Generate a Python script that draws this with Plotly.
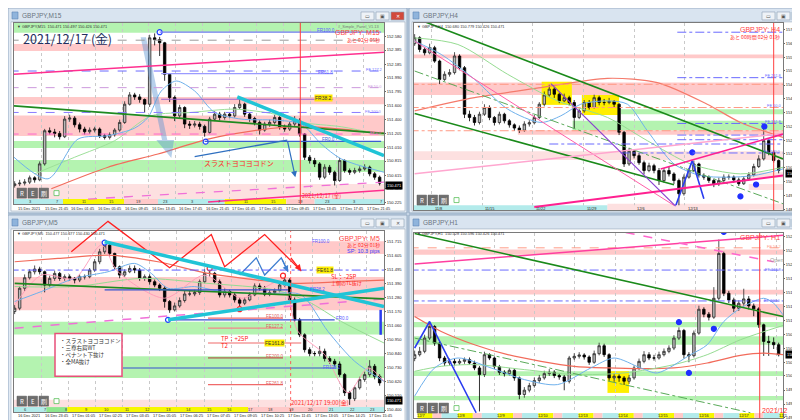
import plotly.graph_objects as go

W, H = 800, 420
FONT = 'Liberation Sans, DejaVu Sans, sans-serif'
JFONT = 'Noto Sans CJK JP, sans-serif'

# ======================= DATA =======================
# ---- GBPJPY M15 (top-left) ----
m15_open0 = 150.470
m15_close = [150.493,150.503,150.517,150.578,150.550,150.775,151.244,151.225,151.206,151.159,
             151.408,151.422,151.328,151.267,151.230,151.253,151.267,151.173,151.150,151.187,
             151.253,151.361,151.619,151.750,151.722,151.685,151.619,152.557,152.533,152.487,
             152.041,151.713,151.455,151.572,151.338,151.323,151.338,151.305,151.220,151.408,
             151.478,151.431,151.478,151.455,151.572,151.619,151.478,151.417,151.361,151.253,
             151.338,151.361,151.431,151.300,151.267,151.338,151.384,151.197,150.869,150.822,
             150.775,150.587,150.728,150.657,150.540,150.822,150.681,150.657,150.681,150.704,
             150.728,150.634,150.587,150.503]
m15_high = [150.53,150.55,150.56,150.61,150.60,150.81,151.27,151.29,151.27,151.24,
            151.45,151.47,151.45,151.36,151.30,151.29,151.30,151.29,151.20,151.22,
            151.28,151.40,151.66,151.79,151.78,151.76,151.70,152.60,152.62,152.57,
            152.50,152.06,151.74,151.61,151.59,151.38,151.38,151.37,151.33,151.44,
            151.52,151.51,151.51,151.50,151.62,151.70,151.64,151.50,151.44,151.39,
            151.37,151.40,151.47,151.45,151.33,151.37,151.45,151.42,151.21,150.90,
            150.86,150.80,150.77,150.76,150.68,150.86,150.84,150.71,150.72,150.74,
            150.77,150.75,150.66,150.61]
m15_low = [150.44,150.46,150.47,150.49,150.51,150.53,150.75,151.19,151.15,151.12,
           151.14,151.37,151.29,151.22,151.19,151.20,151.22,151.14,151.12,151.12,
           151.16,151.23,151.34,151.60,151.68,151.64,151.50,151.58,152.45,152.30,
           151.95,151.65,151.38,151.42,151.28,151.27,151.29,151.26,151.16,151.20,
           151.38,151.39,151.40,151.42,151.43,151.55,151.44,151.37,151.32,151.19,
           151.23,151.30,151.33,151.26,151.23,151.24,151.31,151.16,150.83,150.78,
           150.73,150.55,150.56,150.62,150.47,150.52,150.65,150.62,150.63,150.65,
           150.68,150.60,150.55,150.47]
m15_price_ticks = [152.580,152.385,152.185,151.990,151.795,151.600,151.400,151.205,151.010,150.815,150.615,150.420,150.225]
m15_time_labels = ['15 Dec 2021','15 Dec 21:45','16 Dec 01:45','16 Dec 05:45','16 Dec 09:45','16 Dec 13:45','16 Dec 17:45',
                   '16 Dec 21:45','17 Dec 01:45','17 Dec 05:45','17 Dec 09:45','17 Dec 13:45','17 Dec 17:45','17 Dec 21:45']
m15_time_pos = [0.0,5.37,10.74,16.11,21.48,26.85,32.22,37.59,42.96,48.33,53.7,59.07,64.44,69.81]
m15_session_hours = ['3','7','11','15','19','23','3','7','11','15','19','23','3','7']
m15_session_pos = [3.0,8.41,13.82,19.23,24.64,30.05,35.46,40.87,46.28,51.69,57.1,62.51,67.92,73.33]
m15_session_spans = [(-0.13,9.67,'c'),(9.67,21.87,'y'),(21.87,28.67,'p'),(28.67,42.0,'c'),(42.0,54.33,'y'),(54.33,60.0,'p'),(60.0,73.87,'c')]
m15_bands = [(152.63,152.77,'g'),(152.37,152.47,'p'),(151.62,151.72,'p'),(151.17,151.46,'p'),
             (151.00,151.10,'g'),(150.66,150.83,'g'),(150.28,150.49,'lp')]
m15_ma_slow_x = [7.33,18.67,28.67,38.67,48.67,57.33,65.33,73.87]
m15_ma_slow_y = [150.423,150.728,150.915,151.126,151.253,151.305,151.267,151.206]
m15_ma_fast_x = [-0.13,6.67,12.67,18.67,24.0,26.67,29.33,32.33,36.0,40.0,45.33,52.0,57.33,61.33,65.33,73.87]
m15_ma_fast_y = [150.869,150.564,151.126,151.173,151.281,151.431,151.806,151.947,151.806,151.502,151.408,151.394,151.338,151.056,150.845,150.657]
m15_ma_mid_x = [4.0,12.0,20.0,27.33,35.33,44.0,52.0,57.33,65.33,73.87]
m15_ma_mid_y = [150.634,150.869,151.103,151.455,151.502,151.549,151.478,151.361,151.300,151.180]
m15_tl_green = [(-0.13,151.595),(73.87,151.206)]
m15_tl_magenta = [(-0.13,152.041),(73.87,152.355)]
m15_tl_magenta_low = [(38.67,150.235),(73.87,150.404)]
m15_tl_pink_dash = [(14.67,150.278),(73.87,150.517)]
m15_tl_cyan = [(44.53,151.722),(73.87,150.892)]
m15_tl_blue = [(36.0,150.878),(54.53,151.112)]
m15_arrow_blue = [(54.53,151.112),(56.13,150.587)]
m15_fr_levels = [152.637,152.050,151.689,151.094]
m15_fr_spans = [(29.0,73.3),(29.3,63.7),(29.3,63.7),(38.0,73.3)]
m15_fr_names = ['FR100.0','FR61.8','FR38.2','FR0.0']
m15_dash_levels = [152.524,152.088,151.853,151.502,151.197]
m15_dash_names = ['','FE 127.2','FF 50.0','FE 100.0','FF 0.0']
m15_vline = 57.13
m15_pivot_x = [29.0,38.2]
m15_pivot_y = [152.637,151.089]
m15_big_arrow_x = [25.2,26.27,30.53,31.87,31.33,28.33,29.47]
m15_big_arrow_y = [152.566,152.566,151.112,151.112,150.859,151.112,151.112]
m15_last = 150.471

# ---- GBPJPY H4 (top-right) ----
h4_open0 = 156.60
h4_close = [156.88,156.33,156.17,156.41,155.78,154.92,155.16,155.24,156.02,155.47,
            153.28,153.13,152.89,153.28,153.60,153.13,152.89,153.28,152.97,152.78,
            152.63,152.53,152.82,152.88,153.13,153.75,154.19,154.46,154.22,153.91,
            154.06,153.83,153.13,153.44,153.83,153.60,154.06,153.83,153.83,153.88,
            153.75,152.43,150.94,151.54,151.33,151.00,150.63,150.86,150.63,150.16,
            150.63,150.47,150.16,149.54,150.32,150.63,150.94,150.40,150.32,150.16,
            150.01,150.16,150.32,150.32,150.19,150.01,150.24,150.43,150.82,151.18,
            152.04,151.49,151.10,150.63]
h4_high = [157.05,156.95,156.45,156.60,156.50,155.85,155.30,155.40,156.20,156.10,
           155.55,153.45,153.25,153.40,153.75,153.70,153.20,153.40,153.35,153.05,
           152.85,152.75,152.95,153.00,153.25,153.85,154.35,154.70,154.55,154.30,
           154.25,154.15,153.95,153.55,153.95,153.95,154.20,154.15,154.00,154.05,
           153.95,153.80,152.50,151.70,151.60,151.45,151.10,151.00,150.95,150.75,
           150.75,150.80,150.55,150.25,150.45,150.75,151.10,151.00,150.50,150.40,
           150.25,150.30,150.45,150.45,150.40,150.30,150.35,150.55,150.95,151.35,
           152.70,152.10,151.60,151.15]
h4_low = [156.50,156.20,156.05,156.10,155.70,154.70,154.85,155.05,155.15,155.35,
          153.10,152.95,152.75,152.80,153.20,153.00,152.75,152.80,152.85,152.65,
          152.50,152.40,152.45,152.70,152.80,153.05,153.65,154.10,154.05,153.80,
          153.85,153.70,152.60,153.05,153.35,153.50,153.55,153.70,153.70,153.75,
          153.60,152.30,150.80,150.85,151.20,150.90,150.45,150.55,150.50,149.95,
          150.05,150.35,150.00,148.95,149.45,150.25,150.55,150.30,150.20,150.05,
          149.85,149.90,150.05,150.20,150.05,149.90,149.95,150.15,150.35,150.75,
          151.10,151.35,151.00,150.50]
h4_price_ticks = [157.265,156.605,155.960,155.315,154.655,154.010,153.365,152.705,152.060,151.415,150.755,150.110,149.450,148.805]
h4_time_labels = ['11/8','11/15','11/22','11/29','12/6','12/13']
h4_time_pos = [3.47,13.6,23.73,33.87,44.0,54.13]
h4_session_spans = [(-0.13,38.67,'c'),(38.67,67.0,'lp')]
h4_bands = [(155.91,156.09,'p',-1),(154.19,154.77,'p',-1),(152.32,152.53,'p',20.7),(151.13,151.54,'lp',-1),
            (150.29,150.55,'lp',67.0),(149.72,150.00,'lp',67.0),(148.79,149.07,'lp',38.67),
            (153.28,153.52,'g',41.3),(152.53,152.97,'g',31.67)]
h4_dash_levels = [154.689,153.596,152.503]
h4_blue_levels = [157.140,155.001,152.847,152.300,152.081,151.879,151.457]
h4_blue_starts = [52.67,52.67,52.67,52.67,52.67,27.0,41.3]
h4_ma_red_x = [0,12,25.33,38.67,48.67,58.67,65.33,73.87]
h4_ma_red_y = [153.440,154.064,154.533,154.970,154.767,153.752,152.894,152.191]
h4_ma_blue_x = [0,5.33,12,18.67,25.33,29.33,33.33,38.67,42.67,46.67,52,57.33,62.67,68,73.87]
h4_ma_blue_y = [156.719,156.094,154.923,153.518,152.894,153.206,153.752,153.908,153.752,152.503,150.942,150.395,150.317,150.395,150.708]
h4_ma_green_x = [0,8.67,18.67,28.67,38.67,46.67,55.33,65.33,73.87]
h4_ma_green_y = [156.875,156.563,155.157,153.908,153.128,152.035,150.942,150.474,150.786]
h4_tl_green_up = [(0,157.812),(73.87,151.176)]
h4_tl_green_low = [(0,153.315),(52,149.959)]
h4_tl_green_dash = [(0,155.314),(73.87,149.068)]
h4_tl_pink_thin = [(0,156.719),(52,148.990)]
h4_tl_pink_light = [(0,150.474),(73.87,152.378)]
h4_tl_hot_up = [(49.33,150.708),(73.87,152.347)]
h4_tl_hot_low = [(24.0,148.912),(73.87,150.396)]
h4_tl_purple = [(27.33,154.720),(52.33,148.959)]
h4_zig_x = [52.33,55.67,58.0]
h4_zig_y = [148.959,151.098,149.302]
h4_boxes = [(25.47,31.53,153.72,154.81),(33.53,41.0,153.25,154.19)]
h4_dots_x = [55.67,68.47,65.33,70.13]
h4_dots_y = [151.488,149.974,149.412,152.706]
h4_vline = 72.0
h4_last = 150.471

# ---- GBPJPY M5 (bottom-left) ----
m5_open0 = 151.170
m5_close = [151.196,151.352,151.434,151.481,151.502,151.481,151.377,151.429,151.468,151.429,
            151.442,151.429,151.416,151.442,151.442,151.494,151.559,151.637,151.689,151.624,
            151.520,151.455,151.481,151.507,151.494,151.429,151.442,151.403,151.377,151.352,
            151.248,151.183,151.214,151.256,151.307,151.307,151.318,151.403,151.468,151.468,
            151.403,151.300,151.326,151.300,151.261,151.235,151.261,151.300,151.370,151.352,
            151.305,151.318,151.333,151.377,151.416,151.261,151.105,150.988,150.872,150.841,
            150.841,150.859,150.802,150.781,150.760,150.677,150.535,150.488,150.574,150.638,
            150.677,150.742,150.664,150.612]
m5_high = [151.22,151.37,151.46,151.50,151.53,151.52,151.49,151.45,151.49,151.48,
           151.46,151.46,151.44,151.46,151.46,151.51,151.58,151.66,151.72,151.70,
           151.63,151.53,151.50,151.53,151.53,151.51,151.46,151.46,151.42,151.39,
           151.37,151.26,151.24,151.28,151.33,151.33,151.34,151.42,151.50,151.49,
           151.48,151.42,151.35,151.34,151.32,151.28,151.28,151.32,151.39,151.39,
           151.37,151.34,151.35,151.40,151.45,151.43,151.28,151.12,151.00,150.89,
           150.86,150.90,150.88,150.82,150.80,150.78,150.69,150.55,150.59,150.66,
           150.70,150.79,150.76,150.68]
m5_low = [151.15,151.18,151.33,151.42,151.46,151.46,151.32,151.36,151.41,151.41,
          151.41,151.41,151.39,151.40,151.42,151.43,151.48,151.54,151.62,151.60,
          151.50,151.43,151.44,151.47,151.47,151.41,151.41,151.38,151.36,151.33,
          151.20,151.16,151.17,151.20,151.24,151.29,151.29,151.30,151.39,151.44,
          151.39,151.28,151.28,151.28,151.24,151.21,151.22,151.25,151.29,151.33,
          151.29,151.29,151.30,151.32,151.36,151.24,151.09,150.97,150.85,150.82,
          150.82,150.82,150.78,150.76,150.74,150.66,150.51,150.44,150.47,150.56,
          150.62,150.66,150.64,150.59]
m5_price_ticks = [151.715,151.605,151.495,151.390,151.280,151.170,151.060,150.950,150.840,150.730,150.620,150.510,150.400]
m5_time_labels = ['16 Dec 2021','16 Dec 23:45','17 Dec 01:05','17 Dec 02:25','17 Dec 03:45','17 Dec 05:05','17 Dec 06:25',
                  '17 Dec 07:45','17 Dec 09:05','17 Dec 10:25','17 Dec 11:45','17 Dec 13:05','17 Dec 14:25','17 Dec 15:45']
m5_time_pos = [0.0,5.41,10.82,16.23,21.64,27.05,32.46,37.87,43.28,48.69,54.1,59.51,64.92,70.33]
m5_session_hours = [str(h) for h in range(6, 24)]
m5_session_pos = [2.0,6.09,10.18,14.27,18.36,22.45,26.54,30.63,34.72,38.81,42.9,46.99,51.08,55.17,59.26,63.35,67.44,71.53]
m5_session_spans = [(-0.13,6.33,'c'),(6.33,10.53,'gg'),(10.53,46.67,'y'),(46.67,62.67,'p'),(62.67,73.87,'c')]
m5_bands = [(151.62,151.72,'p'),(151.18,151.44,'p'),(150.99,151.09,'g'),(150.65,150.82,'g'),(150.42,150.48,'lp')]
m5_ma_red_x = [0,8.67,18.67,28.67,38.67,48.67,55.33,65.33,73.87]
m5_ma_red_y = [151.559,151.585,151.611,151.559,151.468,151.416,151.390,151.403,151.416]
m5_ma_blue_x = [0,5.33,12,18.67,24,27.33,30.67,36,41.33,46.67,52,57.33,62.67,68,73.87]
m5_ma_blue_y = [151.248,151.326,151.429,151.481,151.546,151.468,151.352,151.365,151.326,151.313,151.313,151.300,151.014,150.781,150.625]
m5_ma_green_x = [0,12,25.33,38.67,52,58.67,65.33,73.87]
m5_ma_green_y = [151.365,151.365,151.429,151.390,151.339,151.248,151.092,150.924]
m5_ma_pink_x = [0,5.33,12,17.33,20.67,30,38,45.33,53.33,56.67,62,66.67,70.67,73.87]
m5_ma_pink_y = [151.222,151.455,151.429,151.689,151.481,151.274,151.455,151.274,151.403,151.014,150.833,150.535,150.729,150.625]
m5_tl_cyan1 = [(18.0,151.715),(73.87,151.209)]
m5_tl_cyan2 = [(30.67,151.105),(73.87,151.352)]
m5_tl_green = [(0,151.390),(73.87,151.269)]
m5_tl_pink_dash = [(0,151.040),(73.87,151.269)]
m5_blue_hlines = [(151.339,18.0,54.67),(151.105,30.67,64.0),(150.729,21.67,64.33)]
m5_fe_levels = [151.118,151.040,150.924,150.807,150.599]
m5_fe_spans = [(38.67,53.67),(38.67,53.67),(38.67,57.33),(38.67,53.67),(38.67,53.67)]
m5_fe_names = ['FE100.0','FE127.2','FE161.8','FE200.0','FE261.8']
m5_red_zig_x = [11.33,18.67,31.0,39.33,42.0,50.0,57.33]
m5_red_zig_y = [151.637,151.875,151.512,151.772,151.520,151.772,151.486]
m5_blue_zig_x = [45.0,48.33,50.0,53.33,54.67]
m5_blue_zig_y = [151.455,151.590,151.455,151.590,151.481]
m5_blue_piv_x = [18.0,30.67]
m5_blue_piv_y = [151.709,151.105]
m5_red_piv_x = [39.0,45.0,53.67]
m5_red_piv_y = [151.507,151.188,151.450]
m5_dash_level = 151.494
m5_vline = 55.2
m5_vbar = [(73.2,151.183),(73.2,150.988)]
m5_last = 150.471
m5_notes = ['・スラストヨコヨコドン', '・三尊右肩WT', '・ペナント下抜け', '・全MA抜け']

# ---- GBPJPY H1 (bottom-right) ----
h1_open0 = 150.40
h1_close = [150.473,150.536,150.787,151.006,150.692,150.410,150.316,150.347,150.316,150.347,
            150.379,150.316,150.222,150.097,150.473,150.410,150.247,150.140,150.115,150.178,
            150.034,149.720,149.802,149.889,149.984,150.034,150.115,150.140,150.078,150.053,
            149.971,150.410,150.442,150.467,150.429,150.329,150.492,150.642,150.473,150.034,
            150.065,150.034,149.971,150.034,150.222,150.347,150.473,150.410,150.410,150.473,
            150.536,150.598,150.787,150.931,150.473,150.454,150.881,151.332,151.238,151.182,
            151.539,152.386,151.634,151.508,151.351,151.445,151.527,151.395,151.339,151.038,
            150.724,150.705,150.661,150.473]
h1_high = [150.55,150.62,150.85,151.08,151.03,150.72,150.45,150.40,150.40,150.39,
           150.42,150.42,150.36,150.26,150.53,150.50,150.44,150.28,150.18,150.22,
           150.20,150.06,149.86,149.94,150.04,150.09,150.17,150.20,150.18,150.12,
           150.09,150.45,150.50,150.52,150.50,150.46,150.55,150.70,150.68,150.50,
           150.12,150.10,150.07,150.09,150.27,150.40,150.54,150.52,150.47,150.53,
           150.59,150.65,150.84,150.99,150.96,150.52,150.93,151.40,151.37,151.28,
           151.75,152.65,152.42,151.68,151.55,151.50,151.72,151.58,151.44,151.37,
           151.06,150.83,150.80,150.70]
h1_low = [150.35,150.44,150.50,150.75,150.64,150.35,150.26,150.27,150.27,150.28,
          150.30,150.28,150.18,149.40,150.05,150.37,150.20,150.09,150.06,150.08,
          149.98,149.63,149.66,149.76,149.85,149.94,150.00,150.07,150.03,150.00,
          149.80,149.93,150.37,150.40,150.38,150.28,150.30,150.46,150.43,149.98,
          149.96,149.96,149.90,149.92,150.00,150.18,150.31,150.37,150.36,150.38,
          150.44,150.50,150.56,150.75,150.40,150.33,150.42,150.85,151.18,151.12,
          151.15,151.50,151.58,151.45,151.28,151.30,151.40,151.33,151.20,150.98,
          150.45,150.45,150.58,150.44]
h1_price_ticks = [152.700,152.435,152.175,151.910,151.645,151.380,151.120,150.855,150.595,150.330,150.070,149.805,149.540,149.280]
h1_time_labels = ['12/7','12/8','12/9','12/10','12/13','12/14','12/15','12/16','12/17','12/2']
h1_time_pos = [-0.13,7.94,16.01,24.08,32.15,40.22,48.29,56.36,64.43,72.5]
h1_bands = [(152.36,152.46,'p'),(151.61,151.70,'p'),(151.18,151.43,'p'),
            (150.99,151.09,'g'),(150.66,150.82,'g'),(150.07,150.16,'g'),(149.61,149.69,'g')]
h1_dash_levels = [152.493,152.073,151.489]
h1_ma_red_x = [0,5.33,12,18.67,25.33,32,38.67,45.33,52,58.67,65.33,70,73.87]
h1_ma_red_y = [151.194,150.912,150.661,150.473,150.347,150.253,150.222,150.209,150.222,150.316,150.461,150.504,150.473]
h1_ma_blue_x = [0,4,8.67,15.33,22,28.67,35.33,40,45.33,48.67,55.33,58.67,62,65.33,70,72,73.87]
h1_ma_blue_y = [149.689,150.222,150.410,150.222,150.002,149.908,150.222,150.410,150.222,150.128,150.473,150.661,151.100,151.351,151.539,151.445,151.226]
h1_ma_green_x = [0,5.33,12,22,32,42,52,58.67,65.33,73.87]
h1_ma_green_y = [150.159,150.253,150.285,150.191,150.097,150.128,150.285,150.473,150.755,151.025]
h1_tl_pink = [(0,152.186),(73.87,152.731)]
h1_tl_pink_dash = [(42.33,152.782),(72.0,152.229)]
h1_tl_green = [(0,152.763),(73.87,151.194)]
h1_tl_green_dash = [(0,150.787),(67.33,149.375)]
h1_zig_x = [0,3.0,12.33]
h1_zig_y = [150.598,151.100,149.375]
h1_box = (38.67,43.0,149.75,150.16)
h1_dots_x = [53.0,60.0,55.0,62.0]
h1_dots_y = [151.088,150.962,150.128,152.794]
h1_vline = 69.2
h1_last = 150.471

# ======================= STYLE / HELPERS =======================
BG = '#c4d4e5'
COL = {'g': '#b4f3b0', 'p': '#ffc9c9', 'lp': '#fde0e0', 'c': '#b3ebeb', 'y': '#f7f700', 'gg': '#8ee68e'}
XR = [-0.13, 73.87]
TS = 3.9   # tiny MT4 label size

shapes, annotations, traces = [], [], []


def prect(x0, y0, x1, y1, fill, line=None, lw=0, layer='below'):
    shapes.append(dict(type='rect', xref='paper', yref='paper', x0=x0 / W, x1=x1 / W,
                       y0=1 - y1 / H, y1=1 - y0 / H, fillcolor=fill,
                       line=dict(color=line or fill, width=lw), layer=layer))


def ptext(s, x, y, size, color, anchor='left', family=FONT, bg=None):
    a = dict(text=s, x=x / W, y=1 - y / H, xref='paper', yref='paper', showarrow=False,
             xanchor=anchor, yanchor='middle', font=dict(size=size, color=color, family=family), borderpad=0)
    if bg:
        a['bgcolor'] = bg
    annotations.append(a)


def dtext(ax, s, x, y, size, color, anchor='left', bg=None, family=FONT):
    a = dict(text=s, x=x, y=y, xref='x' + ax, yref='y' + ax, showarrow=False, xanchor=anchor,
             yanchor='middle', font=dict(size=size, color=color, family=family), borderpad=0)
    if bg:
        a['bgcolor'] = bg
    annotations.append(a)


def band(ax, lo, hi, color, x0=-1, x1=80):
    shapes.append(dict(type='rect', xref='x' + ax, yref='y' + ax, x0=x0, x1=x1, y0=lo, y1=hi,
                       fillcolor=color, line=dict(width=0), layer='below'))


def seg(ax, p0, p1, color, width=1.0, dash='solid', layer='above'):
    shapes.append(dict(type='line', xref='x' + ax, yref='y' + ax, x0=p0[0], y0=p0[1], x1=p1[0], y1=p1[1],
                       line=dict(color=color, width=width, dash=dash), layer=layer))


def hl(ax, y, x0, x1, color, width=1.0, dash='solid'):
    seg(ax, (x0, y), (x1, y), color, width, dash)


def vline(ax, x, color, width=1.0, dash='solid'):
    shapes.append(dict(type='line', xref='x' + ax, yref='y' + ax + ' domain', x0=x, x1=x, y0=0, y1=1,
                       line=dict(color=color, width=width, dash=dash), layer='above'))


def sessions(ax, spans, h):
    for a, b, c in spans:
        shapes.append(dict(type='rect', xref='x' + ax, yref='y' + ax + ' domain', x0=a, x1=b, y0=0, y1=h,
                           fillcolor=COL[c], line=dict(width=0), layer='above'))


def candles(ax, open0, close, high, low):
    opens = [open0] + close[:-1]
    traces.append(go.Candlestick(x=list(range(len(close))), open=opens, high=high, low=low, close=close,
                                 xaxis='x' + ax, yaxis='y' + ax, whiskerwidth=0,
                                 increasing=dict(line=dict(color='#2a2a2a', width=0.8), fillcolor='#b9b9b9'),
                                 decreasing=dict(line=dict(color='#000000', width=0.8), fillcolor='#000000'),
                                 hoverinfo='skip', showlegend=False))


def curve(ax, xs, ys, color, width=1.0, dash='solid'):
    traces.append(go.Scatter(x=xs, y=ys, mode='lines', xaxis='x' + ax, yaxis='y' + ax,
                             line=dict(color=color, width=width, shape='spline', smoothing=0.8, dash=dash),
                             hoverinfo='skip', showlegend=False))


def poly(ax, xs, ys, color, width=1.0, mode='lines', msize=5, msym='circle', mline=None, mfill=None):
    traces.append(go.Scatter(x=xs, y=ys, mode=mode, xaxis='x' + ax, yaxis='y' + ax,
                             line=dict(color=color, width=width),
                             marker=dict(size=msize, symbol=msym, color=mfill or color,
                                         line=dict(color=mline or color, width=1.2)),
                             hoverinfo='skip', showlegend=False))


def arrow(ax, p0, p1, color, width=1.0):
    annotations.append(dict(x=p1[0], y=p1[1], ax=p0[0], ay=p0[1], xref='x' + ax, yref='y' + ax,
                            axref='x' + ax, ayref='y' + ax, showarrow=True, arrowhead=2, arrowsize=1,
                            arrowwidth=width, arrowcolor=color, text=''))


def timelabels(ax, pos, labels, ypx):
    for p, s in zip(pos, labels):
        annotations.append(dict(text=s, x=p, y=1 - ypx / H, xref='x' + ax, yref='paper', showarrow=False,
                                xanchor='left', yanchor='middle', xshift=1,
                                font=dict(size=TS, color='#222', family=FONT)))


def hourlabels(ax, pos, labels, ypx):
    for p, s in zip(pos, labels):
        annotations.append(dict(text=s, x=p, y=1 - ypx / H, xref='x' + ax, yref='paper', showarrow=False,
                                xanchor='center', yanchor='middle', font=dict(size=TS, color='#333', family=FONT)))


def lastprice(ax, price, xpx):
    annotations.append(dict(text=f'{price:.3f}', x=xpx / W, y=price, xref='paper', yref='y' + ax,
                            showarrow=False, xanchor='left', yanchor='middle', bgcolor='#000000',
                            font=dict(size=TS, color='#ffffff', family=FONT), borderpad=1))


def window(x0, y0, x1, y1, title, active=False):
    prect(x0, y0, x1, y1, '#e3ebf4', '#8fa6bf', 1)
    prect(x0 + 1, y0 + 1, x1 - 1, y0 + 14, '#d9e4f0')
    prect(x0 + 3, y0 + 14, x1 - 2, y1 - 2, '#ffffff', '#9aaabb', 0.6)
    prect(x0 + 4, y0 + 4, x0 + 10, y0 + 11, '#8fb4dc', '#5c85b5', 0.6, layer='above')
    ptext(title, x0 + 13, y0 + 7.5, 6.5, '#6a7480')
    bx = [x1 - 46, x1 - 31, x1 - 16]
    for i, b in enumerate(bx):
        fill = '#d2493b' if (active and i == 2) else '#eef2f7'
        prect(b, y0 + 4, b + 13, y0 + 12, fill, '#8c9db1', 0.6, layer='above')
    ptext('▭', bx[0] + 6.5, y0 + 8, 5, '#555', 'center')
    ptext('▣', bx[1] + 6.5, y0 + 8, 5, '#555', 'center')
    ptext('✕', bx[2] + 6.5, y0 + 8, 5, '#fff' if active else '#555', 'center')


def rebuttons(x0, y0):
    for i, s in enumerate(['R', 'E', '刷']):
        prect(x0 + i * 11, y0, x0 + i * 11 + 9.5, y0 + 10, '#6e6e6e', '#555', 0.5, layer='above')
        ptext(s, x0 + i * 11 + 4.75, y0 + 5, 6, '#ffffff', 'center', JFONT)
    prect(x0 + 37, y0 + 2.5, x0 + 42, y0 + 7.5, '#ffffff', '#5cc05c', 0.8, layer='above')


# ======================= WINDOWS =======================
window(0, 0, 399, 206, 'GBPJPY,M15', active=True)
window(401, 0, 800, 206, 'GBPJPY,H4')
window(0, 208, 399, 418, 'GBPJPY,M5')
window(401, 208, 800, 418, 'GBPJPY,H1')

# ======================= PANEL 1 : M15 =======================
A = ''
for lo, hi, c in m15_bands:
    band(A, lo, hi, COL[c])
sessions(A, m15_session_spans, 0.0275)
shapes.append(dict(type='path', xref='x', yref='y', layer='above',
                   path='M ' + ' L '.join(f'{x},{y}' for x, y in zip(m15_big_arrow_x, m15_big_arrow_y)) + ' Z',
                   fillcolor='rgba(95,150,210,0.45)', line=dict(width=0)))
candles(A, m15_open0, m15_close, m15_high, m15_low)
curve(A, m15_ma_slow_x, m15_ma_slow_y, '#f26b5b', 1.2)
curve(A, m15_ma_mid_x, m15_ma_mid_y, '#9ee09a', 1.0)
curve(A, m15_ma_fast_x, m15_ma_fast_y, '#6fb1ec', 1.0)
dash_cols = ['#9a9a9a', '#6b6bff', '#cc99dd', '#8a7cff', '#ff66cc']
for lv, c in zip(m15_dash_levels, dash_cols):
    hl(A, lv, -1, 80, c, 1.0, 'dash')
for lv, (a, b), nm, c in zip(m15_fr_levels, m15_fr_spans, m15_fr_names, ['#7f7fff', '#9a9aff', '#9a5fd0', '#3b5fd0']):
    hl(A, lv, a, b, c, 1.2)
seg(A, *m15_tl_green, '#1f8a1f', 1.6)
seg(A, *m15_tl_magenta, '#ff2f8f', 1.5)
seg(A, *m15_tl_magenta_low, '#ff2f8f', 1.5)
seg(A, *m15_tl_pink_dash, '#f070d8', 1.3, 'dash')
seg(A, *m15_tl_cyan, '#20c4d6', 3.5)
seg(A, *m15_tl_blue, '#2f6fc0', 1.3)
arrow(A, *m15_arrow_blue, '#2f6fc0', 1.2)
vline(A, m15_vline, '#ff3b3b', 1.0)
poly(A, m15_pivot_x, m15_pivot_y, '#2040ff', 1, 'markers', 5, 'circle', '#2040ff', '#ffffff')
dtext(A, 'FR100.0', 60.2, 152.66, 4.5, '#5a5aff')
dtext(A, 'FR61.8', 60.5, 152.07, 4.5, '#5a5aff')
dtext(A, 'FR38.2', 59.8, 151.705, 5, '#333333', bg='#ffe600')
dtext(A, 'FR0.0', 61.3, 151.12, 4.5, '#3b5fd0')
for lv, nm, c in zip(m15_dash_levels, m15_dash_names, dash_cols):
    if nm:
        dtext(A, nm, 73.7, lv + 0.02, TS, c, 'right')
ptext('2021/12/17 (金)', 14, 31, 12.5, '#23305e', 'left', JFONT)
ptext('GBPJPY: M15', 373, 25, 7, '#ff4545', 'right')
ptext('あと 02分 05秒', 373, 32.5, 5, '#ff3030', 'right', JFONT)
ptext('スラストヨコヨコドン', 231, 156, 7, '#ff2a2a', 'center', JFONT)
ptext('2021/12/17 (金)', 293, 188.5, 5.5, '#ff3030', 'left', JFONT)
ptext('▼ GBPJPY,M15  150.471 150.497 150.426 150.471', 8, 18.5, TS, '#333')
ptext('#_Simple_Panel_V1.13', 372, 18.5, TS, '#777', 'right')
timelabels(A, m15_time_pos, m15_time_labels, 201.5)
hourlabels(A, m15_session_pos, m15_session_hours, 194.5)
lastprice(A, m15_last, 377)
rebuttons(9, 181)

# ======================= PANEL 2 : H4 =======================
A = '2'
for lo, hi, c, x0 in h4_bands:
    band(A, lo, hi, COL[c], x0)
for (x0, x1, lo, hi) in h4_boxes:
    band(A, lo, hi, '#ffee00', x0, x1)
sessions(A, h4_session_spans, 0.025)
candles(A, h4_open0, h4_close, h4_high, h4_low)
curve(A, h4_ma_red_x, h4_ma_red_y, '#f57a6b', 1.2)
curve(A, h4_ma_green_x, h4_ma_green_y, '#96dc92', 1.0)
curve(A, h4_ma_blue_x, h4_ma_blue_y, '#6fb1ec', 1.0)
for lv in h4_dash_levels:
    hl(A, lv, -1, 80, '#ff9a85', 1.0, 'dashdot')
for lv, x0 in zip(h4_blue_levels, h4_blue_starts):
    hl(A, lv, x0, 80, '#6a6aff', 1.0, 'dashdot')
seg(A, *h4_tl_green_up, '#1a8a1a', 1.6)
seg(A, *h4_tl_green_low, '#1a8a1a', 1.6)
seg(A, *h4_tl_green_dash, '#5aaa5a', 1.0, 'dashdot')
seg(A, *h4_tl_pink_thin, '#ff5fa8', 1.0)
seg(A, *h4_tl_pink_light, '#ffa6cf', 1.5)
seg(A, *h4_tl_hot_up, '#ff2090', 1.6)
seg(A, *h4_tl_hot_low, '#ff2090', 2.0)
seg(A, *h4_tl_purple, '#8a3fd0', 1.2)
poly(A, h4_zig_x, h4_zig_y, '#2a3cf0', 1.6)
poly(A, h4_dots_x, h4_dots_y, '#1f2fff', 1, 'markers', 5)
vline(A, h4_vline, '#ff4040', 1.0)
ptext('GBPJPY: H4', 773, 21.5, 7, '#ff4545', 'right')
ptext('あと 00時間 02分 01秒', 773, 29, 5, '#ff3030', 'right', JFONT)
ptext('▼ GBPJPY,H4  150.680 150.779 150.426 150.471', 408, 18.5, TS, '#333')
for lv, nm in zip([155.001, 152.847, 151.457, 153.596], ['FE 261.8', 'FE 161.8', 'FE 100.0', 'FE 50.0']):
    dtext(A, nm, 73.7, lv + 0.08, TS, '#6a6aff', 'right')
timelabels(A, h4_time_pos, h4_time_labels, 201)
lastprice(A, h4_last, 777)
rebuttons(409, 188)

# ======================= PANEL 3 : M5 =======================
A = '3'
for lo, hi, c in m5_bands:
    band(A, lo, hi, COL[c])
sessions(A, m5_session_spans, 0.0275)
candles(A, m5_open0, m5_close, m5_high, m5_low)
curve(A, m5_ma_red_x, m5_ma_red_y, '#f26b5b', 1.2)
curve(A, m5_ma_green_x, m5_ma_green_y, '#96dc92', 1.0)
curve(A, m5_ma_blue_x, m5_ma_blue_y, '#6fb1ec', 1.0)
curve(A, m5_ma_pink_x, m5_ma_pink_y, '#ff9ab8', 0.9)
hl(A, m5_dash_level, -1, 80, '#5a5aff', 1.0, 'dashdot')
seg(A, *m5_tl_pink_dash, '#f070d8', 1.5, 'dash')
seg(A, *m5_tl_green, '#1f8a1f', 1.6)
for lv, a, b in m5_blue_hlines:
    hl(A, lv, a, b, '#3552d0', 1.1)
fe_cols = ['#f06a6a', '#f08a8a', '#f06a6a', '#b08a6a', '#f06a6a']
for lv, (a, b), c in zip(m5_fe_levels, m5_fe_spans, fe_cols):
    hl(A, lv, a, b, c, 1.2 if c != '#b08a6a' else 1.8)
seg(A, *m5_tl_cyan1, '#20c4d6', 3.5)
seg(A, *m5_tl_cyan2, '#20c4d6', 3.5)
seg(A, *m5_vbar, '#2a3cf0', 2.5)
vline(A, m5_vline, '#ff5050', 0.9, 'dot')
poly(A, m5_blue_zig_x, m5_blue_zig_y, '#3f7fd0', 1.3)
arrow(A, (m5_blue_zig_x[-2], m5_blue_zig_y[-2]), (m5_blue_zig_x[-1], m5_blue_zig_y[-1]), '#3f7fd0', 1.2)
poly(A, m5_blue_piv_x, m5_blue_piv_y, '#2040ff', 1, 'markers', 5, 'circle', '#2040ff', '#ffffff')
poly(A, m5_red_piv_x, m5_red_piv_y, '#ff2020', 1, 'markers', 5, 'circle', '#ff2020', '#ffffff')
# red zigzag on an extended overlay axis (it reaches above the chart frame)
poly('5', m5_red_zig_x, m5_red_zig_y, '#ff2020', 1.3)
arrow('5', (m5_red_zig_x[-2] + 5.0, m5_red_zig_y[-2] - 0.17), (m5_red_zig_x[-1], m5_red_zig_y[-1]), '#ff2020', 1.3)
for lv, (a, b), nm in zip(m5_fe_levels, m5_fe_spans, m5_fe_names):
    if nm == 'FE161.8':
        dtext(A, nm, 52.0, lv, 5, '#333', 'center', bg='#ffee00')
    else:
        dtext(A, nm, 52.0, lv + 0.012, 4.5, '#e06060', 'center')
dtext(A, 'FE61.8', 62.0, 151.495, 5, '#333', 'center', bg='#ffee00')
dtext(A, 'FR100.0', 61.3, 151.715, 4.5, '#5a5aff', 'center')
dtext(A, 'FR38.2', 60.6, 151.345, 4.5, '#5a5aff', 'center')
dtext(A, 'FR0.0', 65.5, 151.115, 4.5, '#5a5aff', 'center')
dtext(A, 'FR138.2', 63.5, 150.735, 4.5, '#5a5aff', 'center')
ptext('GBPJPY: M5', 373, 231.5, 7, '#ff4545', 'right')
ptext('あと 02分 01秒', 373, 238, 5, '#ff3030', 'right', JFONT)
ptext('SP: 10.3 pips', 373, 244, 5.5, '#3a3aff', 'right')
ptext('SL：-25P', 322, 270, 6, '#ff2020', 'left', JFONT)
ptext('上側のTL抜け', 322, 276, 5, '#ff2020', 'left', JFONT)
ptext('TP：+25P', 212, 332, 6, '#ff2020', 'left', JFONT)
ptext('T2', 212, 339, 6, '#ff2020', 'left', JFONT)
ptext('2021/12/17 19:00(金)', 282, 396, 6, '#ff3030', 'left', JFONT)
ptext('▼ GBPJPY,M5  150.477 150.477 150.430 150.471', 8, 227, TS, '#333')
prect(47, 327, 114, 370, '#ffffff', '#e8507a', 1.5, layer='above')
for i, s in enumerate(m5_notes):
    ptext(s, 51, 335 + i * 7, 5.5, '#333333', 'left', JFONT)
timelabels(A, m5_time_pos, m5_time_labels, 409.5)
hourlabels(A, m5_session_pos, m5_session_hours, 403.5)
lastprice(A, m5_last, 377)
rebuttons(9, 390)

# ======================= PANEL 4 : H1 =======================
A = '4'
for lo, hi, c in h1_bands:
    band(A, lo, hi, COL[c])
band(A, h1_box[2], h1_box[3], '#ffee00', h1_box[0], h1_box[1])
h1_spans = []
for d in range(10):
    o = 8.07 * d
    h1_spans += [(0.6 + o, 3.6 + o, 'y'), (3.6 + o, 5.4 + o, 'p'), (5.4 + o, 8.67 + o, 'c')]
sessions(A, h1_spans, 0.027)
candles(A, h1_open0, h1_close, h1_high, h1_low)
curve(A, h1_ma_red_x, h1_ma_red_y, '#f26b5b', 1.2)
curve(A, h1_ma_green_x, h1_ma_green_y, '#96dc92', 1.0)
curve(A, h1_ma_blue_x, h1_ma_blue_y, '#6fb1ec', 1.0)
hl(A, h1_dash_levels[0], -1, 80, '#ff9a85', 1.0, 'dash')
hl(A, h1_dash_levels[1], -1, 80, '#6a6aff', 1.0, 'dashdot')
hl(A, h1_dash_levels[2], -1, 80, '#6a6aff', 1.0, 'dashdot')
seg(A, *h1_tl_pink, '#ff3fa0', 1.5)
seg(A, *h1_tl_pink_dash, '#ff66cc', 1.5, 'dash')
seg(A, *h1_tl_green, '#1a8a1a', 1.6)
seg(A, *h1_tl_green_dash, '#5aaa5a', 1.0, 'dashdot')
poly(A, h1_zig_x, h1_zig_y, '#2a3cf0', 1.6)
poly(A, h1_dots_x, h1_dots_y, '#1f2fff', 1, 'markers', 5)
vline(A, h1_vline, '#ff4040', 1.0)
ptext('GBPJPY: H1', 773, 230.5, 7, '#ff4545', 'right')
ptext('Open', 776, 253, 5.5, '#999', 'right')
ptext('2021/12', 753, 404, 7, '#ff3030', 'left')
ptext('▼ GBPJPY,H1  150.528 150.596 150.426 150.471', 408, 227, TS, '#333')
dtext(A, 'FE 161.8', 73.7, 152.09, TS, '#6a6aff', 'right')
dtext(A, 'FE 100.0', 73.7, 151.505, TS, '#6a6aff', 'right')
dtext(A, 'FE 50.2', 73.7, 152.51, TS, '#ff9a85', 'right')
timelabels(A, h1_time_pos, h1_time_labels, 409.5)
lastprice(A, h1_last, 777)
rebuttons(409, 397)


# ======================= AXES =======================
def xaxis(d0, d1, anchor, grid):
    return dict(domain=[d0 / W, d1 / W], anchor=anchor, range=XR, tickvals=grid, ticktext=[''] * len(grid),
                ticks='', showgrid=True, gridcolor='#c9c9c9', griddash='dot', gridwidth=0.8, zeroline=False,
                showline=True, linecolor='#7a7a7a', linewidth=1, mirror=True, rangeslider=dict(visible=False),
                fixedrange=True, showticklabels=False)


def yaxis(t, b, anchor, rng, ticks):
    return dict(domain=[1 - b / H, 1 - t / H], anchor=anchor, range=rng, side='right', tickvals=ticks,
                ticktext=[f'{v:.3f}' for v in ticks], ticks='outside', ticklen=1, tickcolor='#666',
                showgrid=False, zeroline=False, showline=True, linecolor='#7a7a7a', linewidth=1, mirror=True,
                tickfont=dict(size=4.1, color='#222', family=FONT), fixedrange=True)


fig = go.Figure(traces)
fig.update_layout(
    width=W, height=H, margin=dict(l=0, r=0, t=0, b=0), paper_bgcolor=BG, plot_bgcolor='rgba(0,0,0,0)',
    showlegend=False, shapes=shapes, annotations=annotations, dragmode=False,
    xaxis=xaxis(6, 376, 'y', m15_time_pos),
    yaxis=yaxis(15, 197, 'x', [150.207, 152.768], m15_price_ticks),
    xaxis2=xaxis(406, 775, 'y2', h4_time_pos),
    yaxis2=yaxis(15, 203, 'x2', [148.772, 157.577], h4_price_ticks),
    xaxis3=xaxis(6, 376, 'y3', m5_time_pos),
    yaxis3=yaxis(224, 406, 'x3', [150.384, 151.800], m5_price_ticks),
    xaxis4=xaxis(406, 775, 'y4', h1_time_pos),
    yaxis4=yaxis(226, 412, 'x4', [149.275, 152.775], h1_price_ticks),
    xaxis5=dict(domain=[6 / W, 376 / W], anchor='y5', range=XR, visible=False, fixedrange=True),
    yaxis5=dict(domain=[1 - 406 / H, 1 - 205 / H], anchor='x5', range=[150.384, 151.948], visible=False,
                fixedrange=True),
)
fig.write_html('out.html')
